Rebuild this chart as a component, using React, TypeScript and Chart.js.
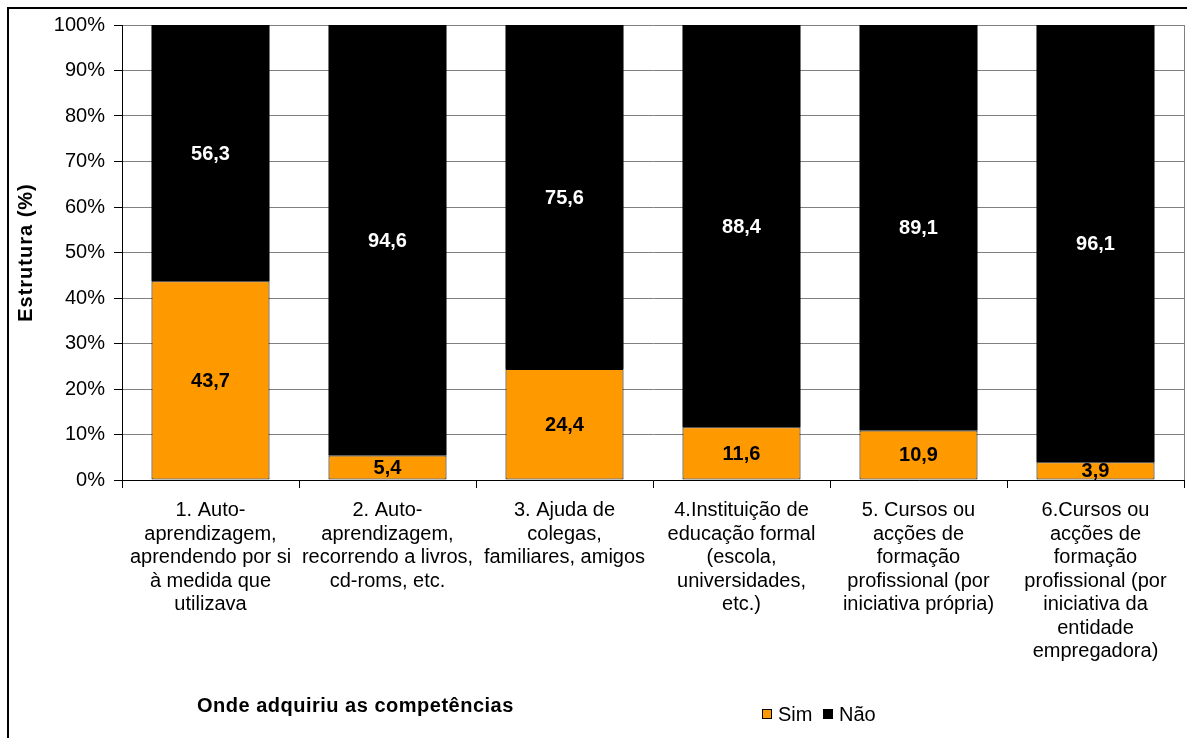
import React, { useEffect, useRef } from "react";
import { Chart, registerables } from "chart.js";

Chart.register(...registerables);

const categories: string[][] = [
  ["1. Auto-", "aprendizagem,", "aprendendo por si", "à medida que", "utilizava"],
  ["2. Auto-", "aprendizagem,", "recorrendo a livros,", "cd-roms, etc."],
  ["3. Ajuda de", "colegas,", "familiares, amigos"],
  ["4.Instituição de", "educação formal", "(escola,", "universidades,", "etc.)"],
  ["5. Cursos ou", "acções de", "formação", "profissional (por", "iniciativa própria)"],
  ["6.Cursos ou", "acções de", "formação", "profissional (por", "iniciativa da", "entidade", "empregadora)"],
];

const simValues = [43.7, 5.4, 24.4, 11.6, 10.9, 3.9];
const naoValues = [56.3, 94.6, 75.6, 88.4, 89.1, 96.1];
const seriesNames = ["Sim", "Não"];
const seriesColors = ["#FF9900", "#000000"];
const labelColors = ["#000000", "#FFFFFF"];

const yAxisTitle = "Estrutura (%)";
const xAxisTitle = "Onde adquiriu as competências";

const FONT = '"Liberation Sans", Arial, sans-serif';

const frameAndLabels = {
  id: "frameAndLabels",
  beforeDraw(chart: any) {
    const ctx = chart.ctx;
    ctx.save();
    ctx.fillStyle = "#FFFFFF";
    ctx.fillRect(0, 0, chart.width, chart.height);
    ctx.restore();
  },
  afterDatasetsDraw(chart: any) {
    const ctx = chart.ctx;
    ctx.save();
    ctx.font = `bold 20px ${FONT}`;
    ctx.textAlign = "center";
    ctx.textBaseline = "middle";
    chart.data.datasets.forEach((ds: any, di: number) => {
      const meta = chart.getDatasetMeta(di);
      meta.data.forEach((el: any, i: number) => {
        const p = el.getProps(["x", "y", "base"], true);
        const v = ds.data[i] as number;
        ctx.fillStyle = labelColors[di];
        ctx.fillText(v.toFixed(1).replace(".", ","), p.x, (p.y + p.base) / 2 + 1);
      });
    });
    ctx.restore();
  },
  afterDraw(chart: any) {
    const ctx = chart.ctx;
    const area = chart.chartArea;
    ctx.save();
    // plot area right border
    ctx.strokeStyle = "#808080";
    ctx.lineWidth = 1;
    ctx.beginPath();
    ctx.moveTo(Math.round(area.right) + 0.5, area.top);
    ctx.lineTo(Math.round(area.right) + 0.5, area.bottom);
    ctx.stroke();
    // outer frame
    ctx.strokeStyle = "#000000";
    ctx.lineWidth = 2;
    ctx.beginPath();
    ctx.moveTo(8, chart.height);
    ctx.lineTo(8, 8);
    ctx.lineTo(chart.width, 8);
    ctx.stroke();
    // y axis title
    ctx.fillStyle = "#000000";
    ctx.font = `bold 20px ${FONT}`;
    ctx.textAlign = "center";
    ctx.textBaseline = "middle";
    (ctx as any).letterSpacing = "1px";
    ctx.save();
    ctx.translate(26, (area.top + area.bottom) / 2);
    ctx.rotate(-Math.PI / 2);
    ctx.fillText(yAxisTitle, 0, 0);
    ctx.restore();
    // x axis title
    (ctx as any).letterSpacing = "0.5px";
    ctx.textAlign = "left";
    ctx.fillText(xAxisTitle, 197, 706);
    (ctx as any).letterSpacing = "0px";
    // legend
    ctx.font = `20px ${FONT}`;
    const legendX = [762, 823];
    seriesNames.forEach((name, i) => {
      const bx = legendX[i];
      ctx.fillStyle = seriesColors[i];
      ctx.fillRect(bx, 709, 10, 10);
      ctx.strokeStyle = "#000000";
      ctx.lineWidth = 1;
      ctx.strokeRect(bx + 0.5, 709.5, 9, 9);
      ctx.fillStyle = "#000000";
      ctx.fillText(name, bx + 16, 715);
    });
    ctx.restore();
  },
};

export default function App() {
  const canvasRef = useRef<HTMLCanvasElement | null>(null);

  useEffect(() => {
    if (!canvasRef.current) return;
    const chart = new Chart(canvasRef.current, {
      type: "bar",
      data: {
        labels: categories,
        datasets: [
          {
            label: seriesNames[0],
            data: simValues,
            backgroundColor: seriesColors[0],
            borderColor: "#000000",
            borderWidth: 1,
            borderSkipped: false,
            barPercentage: 0.667,
            categoryPercentage: 1,
          },
          {
            label: seriesNames[1],
            data: naoValues,
            backgroundColor: seriesColors[1],
            borderColor: "#000000",
            borderWidth: 0,
            borderSkipped: false,
            barPercentage: 0.667,
            categoryPercentage: 1,
          },
        ],
      },
      options: {
        responsive: false,
        animation: false,
        devicePixelRatio: 1,
        layout: { padding: { top: 25, left: 14, right: 3, bottom: 0 } },
        plugins: {
          legend: { display: false },
          tooltip: { enabled: false },
          title: { display: false },
        },
        scales: {
          x: {
            stacked: true,
            offset: true,
            grid: {
              display: true,
              drawOnChartArea: false,
              offset: true,
              tickLength: 8,
              tickColor: "#000000",
            },
            border: { display: true, color: "#000000", width: 1 },
            ticks: {
              color: "#000000",
              font: { family: FONT, size: 20, lineHeight: 1.175 },
              padding: 11,
              maxRotation: 0,
              minRotation: 0,
              autoSkip: false,
            },
            afterFit(scale: any) {
              scale.height = 738 - 480;
            },
          },
          y: {
            stacked: true,
            min: 0,
            max: 100,
            grid: {
              color: "#808080",
              tickLength: 8,
              tickColor: "#000000",
              lineWidth: 1,
            },
            border: { display: true, color: "#000000", width: 1 },
            ticks: {
              stepSize: 10,
              color: "#000000",
              font: { family: FONT, size: 20 },
              padding: 9,
              callback: (v: any) => `${v}%`,
            },
            title: { display: false },
            afterFit(scale: any) {
              scale.width = 108;
            },
          },
        },
      },
      plugins: [frameAndLabels],
    } as any);
    return () => chart.destroy();
  }, []);

  return (
    <div style={{ position: "fixed", left: 0, top: 0, width: 1187, height: 738, background: "#fff" }}>
      <canvas ref={canvasRef} width={1187} height={738} />
    </div>
  );
}
